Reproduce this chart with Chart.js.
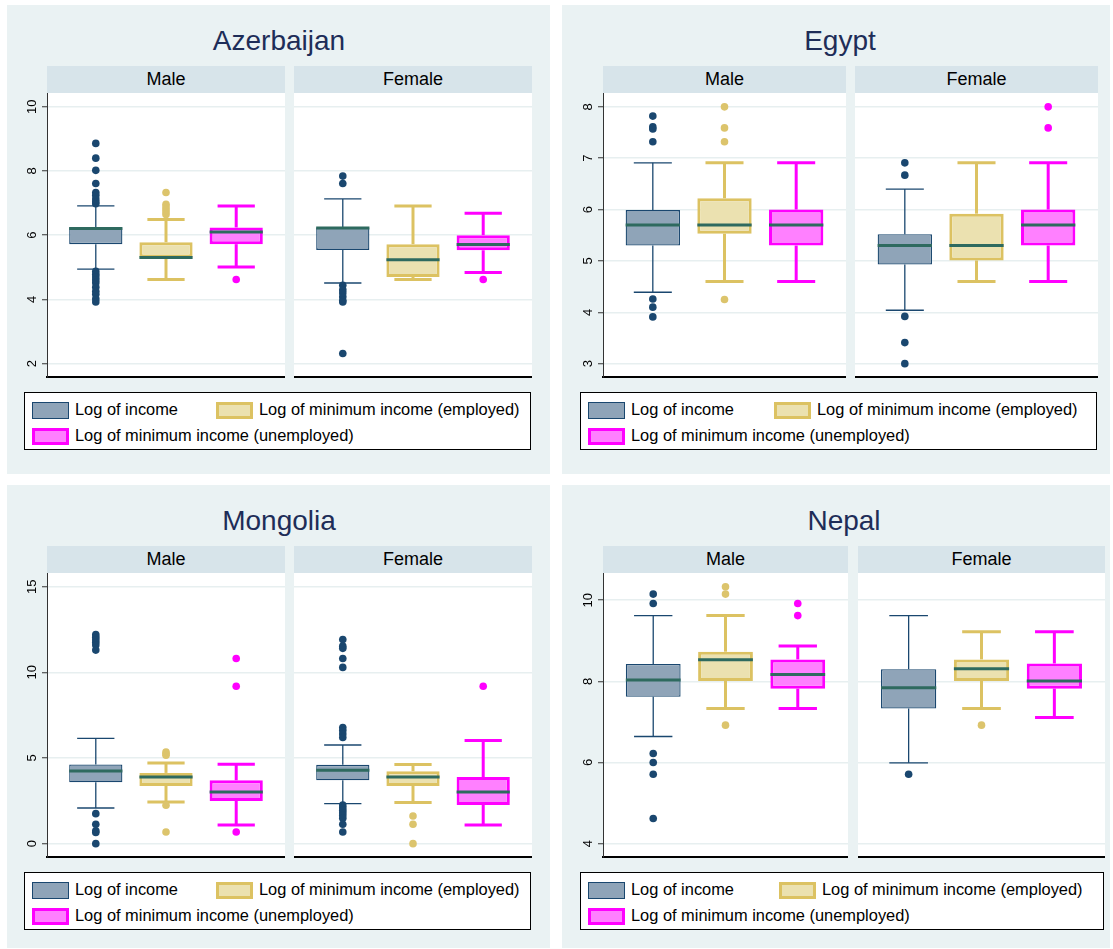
<!DOCTYPE html>
<html>
<head>
<meta charset="utf-8">
<script src="https://cdn.jsdelivr.net/npm/chart.js@4/dist/chart.umd.min.js"></script>
<style>
  body { margin:0; background:#fff; width:1113px; height:949px; position:relative; overflow:hidden;
         font-family:"Liberation Sans", Arial, Helvetica, sans-serif; }
  .panel { position:absolute; background:#eaf2f3; }
  .title { position:absolute; font-size:28px; line-height:28px; color:#1e2d58; white-space:nowrap; transform:translateX(-50%); }
  .strip { position:absolute; background:#d7e4ea; text-align:center; font-size:18px; color:#000; box-sizing:border-box; }
  canvas { position:absolute; }
  .legend { position:absolute; background:#fff; border:1px solid #000; box-sizing:border-box; }
  .key { position:absolute; width:37px; height:17px; box-sizing:border-box; }
  .ltxt { position:absolute; font-size:16.4px; line-height:17px; white-space:nowrap; color:#000; }
</style>
</head>
<body>
<script>
// ---- labels ----
const countries = ['Azerbaijan', 'Egypt', 'Mongolia', 'Nepal'];
const sexes = ['Male', 'Female'];
const seriesNames = ['Log of income', 'Log of minimum income (employed)', 'Log of minimum income (unemployed)'];

// ---- box statistics: [lower whisker, q1, median, q3, upper whisker] per series ----
const azerbaijanMale   = [[4.94, 5.72, 6.21, 6.25, 6.91], [4.62, 5.30, 5.30, 5.78, 6.49], [5.01, 5.72, 6.10, 6.24, 6.91]];
const azerbaijanFemale = [[4.51, 5.54, 6.22, 6.24, 7.13], [4.62, 4.70, 5.23, 5.72, 6.91], [4.84, 5.53, 5.71, 6.00, 6.68]];
const egyptMale        = [[4.39, 5.30, 5.70, 5.99, 6.91], [4.60, 5.53, 5.70, 6.22, 6.91], [4.60, 5.30, 5.70, 6.00, 6.91]];
const egyptFemale      = [[4.04, 4.93, 5.30, 5.52, 6.40], [4.60, 5.01, 5.30, 5.92, 6.91], [4.60, 5.30, 5.70, 6.00, 6.91]];
const mongoliaMale     = [[2.08, 3.58, 4.24, 4.62, 6.14], [2.43, 3.37, 3.89, 4.13, 4.71], [1.09, 2.49, 3.02, 3.70, 4.63]];
const mongoliaFemale   = [[2.34, 3.70, 4.28, 4.60, 5.76], [2.40, 3.37, 3.89, 4.23, 4.62], [1.09, 2.26, 3.02, 3.89, 6.02]];
const nepalMale        = [[6.64, 7.62, 8.03, 8.43, 9.62], [7.33, 8.01, 8.53, 8.73, 9.62], [7.33, 7.82, 8.17, 8.54, 8.87]];
const nepalFemale      = [[5.99, 7.33, 7.84, 8.30, 9.62], [7.33, 8.01, 8.31, 8.54, 9.22], [7.11, 7.82, 8.01, 8.44, 9.22]];

// ---- outside values per series ----
const azerbaijanMaleOut = [
  [8.86, 8.40, 8.02, 7.61, 7.33, 7.24, 7.13, 7.04, 6.98, 4.87, 4.78, 4.70, 4.61, 4.52, 4.38, 4.25, 4.16, 4.02, 3.92],
  [7.33, 6.96, 6.88, 6.80, 6.72, 6.64],
  [4.62]];
const azerbaijanFemaleOut = [
  [7.84, 7.61, 4.44, 4.30, 4.20, 4.08, 3.96, 3.92, 2.31],
  [],
  [4.62]];
const egyptMaleOut = [
  [7.82, 7.61, 7.57, 7.32, 4.26, 4.10, 3.91],
  [8.00, 7.59, 7.32, 4.25],
  []];
const egyptFemaleOut = [
  [6.91, 6.67, 3.92, 3.41, 3.00],
  [],
  [8.00, 7.59]];
const mongoliaMaleOut = [
  [12.20, 12.05, 11.90, 11.75, 11.60, 11.30, 1.75, 1.13, 0.75, 0.65, 0.00],
  [5.35, 5.25, 5.16, 2.24, 0.68],
  [10.81, 9.19, 0.68]];
const mongoliaFemaleOut = [
  [11.92, 11.53, 11.40, 10.81, 10.29, 6.78, 6.60, 6.40, 6.20, 2.25, 2.10, 1.95, 1.80, 1.65, 1.48, 1.13, 0.68],
  [1.61, 1.13, 0.00],
  [9.19]];
const nepalMaleOut = [
  [10.15, 9.92, 6.22, 6.00, 5.71, 4.62],
  [10.33, 10.15, 6.92],
  [9.92, 9.62]];
const nepalFemaleOut = [
  [5.71],
  [6.92],
  []];

// ---- y axis ticks and ranges ----
const azerbaijanTicks = [2, 4, 6, 8, 10];
const egyptTicks = [3, 4, 5, 6, 7, 8];
const mongoliaTicks = [0, 5, 10, 15];
const nepalTicks = [4, 6, 8, 10];
const azerbaijanRange = [1.58, 10.43];
const egyptRange = [2.74, 8.27];
const mongoliaRange = [-0.78, 15.8];
const nepalRange = [3.67, 10.67];

// ---- styling ----
const seriesStyle = [
  { fill: '#8fa4b8', line: '#1a476f', border: 1.3, whisker: 1.3, dot: '#1a476f' },
  { fill: '#ebe1b0', line: '#dcc262', border: 3,   whisker: 3,   dot: '#dcc46c' },
  { fill: '#ff80ff', line: '#ff00ff', border: 3,   whisker: 3,   dot: '#ff00ff' }
];
const medianColor = '#2e6a5f';
const gridColor = '#e7eff0';

// ---- page layout (pixels) ----
const panelLayout = {
  Azerbaijan: { box: [7, 5, 550, 474],    titleX: 279, titleY: 27,  strip: [66, 93],   plotY: [93, 377],  plots: [[47, 285], [294, 532]],  legend: [24, 392, 531, 450],  col2: 191 },
  Egypt:      { box: [562, 5, 1110, 474], titleX: 840, titleY: 27,  strip: [66, 93],   plotY: [93, 377],  plots: [[603, 846], [855, 1098]], legend: [580, 392, 1097, 450], col2: 193 },
  Mongolia:   { box: [7, 485, 550, 948],  titleX: 279, titleY: 507, strip: [546, 573], plotY: [573, 857], plots: [[47, 285], [294, 532]],  legend: [24, 872, 531, 930],  col2: 191 },
  Nepal:      { box: [562, 485, 1110, 948], titleX: 844, titleY: 507, strip: [546, 573], plotY: [573, 857], plots: [[603, 848], [858, 1105]], legend: [580, 872, 1104, 930], col2: 198 }
};

const panelData = {
  Azerbaijan: { stats: [azerbaijanMale, azerbaijanFemale], out: [azerbaijanMaleOut, azerbaijanFemaleOut], ticks: azerbaijanTicks, range: azerbaijanRange },
  Egypt:      { stats: [egyptMale, egyptFemale],           out: [egyptMaleOut, egyptFemaleOut],           ticks: egyptTicks,      range: egyptRange },
  Mongolia:   { stats: [mongoliaMale, mongoliaFemale],     out: [mongoliaMaleOut, mongoliaFemaleOut],     ticks: mongoliaTicks,   range: mongoliaRange },
  Nepal:      { stats: [nepalMale, nepalFemale],           out: [nepalMaleOut, nepalFemaleOut],           ticks: nepalTicks,      range: nepalRange }
};

// whiskers, caps, medians, outside values and rotated y labels
const boxExtras = {
  id: 'boxExtras',
  beforeDraw(chart) {
    const { ctx, chartArea: a } = chart;
    ctx.save();
    ctx.fillStyle = '#ffffff';
    ctx.fillRect(a.left, a.top, a.right - a.left, a.bottom - a.top);
    ctx.restore();
  },
  afterDatasetsDraw(chart) {
    const ctx = chart.ctx;
    const ys = chart.scales.y;
    const seg = (x1, y1, x2, y2) => { ctx.beginPath(); ctx.moveTo(x1, y1); ctx.lineTo(x2, y2); ctx.stroke(); };
    chart.data.datasets.forEach((ds, i) => {
      const bar = chart.getDatasetMeta(i).data[0];
      const [lo, q1, med, q3, hi] = ds.stats;
      const x = bar.x, w = bar.width, cap = w * 0.7;
      ctx.save();
      ctx.strokeStyle = ds.borderColor;
      ctx.lineWidth = ds.whiskerWidth;
      seg(x, ys.getPixelForValue(q3), x, ys.getPixelForValue(hi));
      seg(x, ys.getPixelForValue(q1), x, ys.getPixelForValue(lo));
      seg(x - cap / 2, ys.getPixelForValue(hi), x + cap / 2, ys.getPixelForValue(hi));
      seg(x - cap / 2, ys.getPixelForValue(lo), x + cap / 2, ys.getPixelForValue(lo));
      ctx.strokeStyle = medianColor;
      ctx.lineWidth = 3;
      const ym = ys.getPixelForValue(med);
      seg(x - w / 2, ym, x + w / 2, ym);
      ctx.fillStyle = ds.dotColor;
      ds.outliers.forEach(v => {
        ctx.beginPath();
        ctx.arc(x, ys.getPixelForValue(v), 3.8, 0, Math.PI * 2);
        ctx.fill();
      });
      ctx.restore();
    });
  },
  afterDraw(chart) {
    const opts = chart.options.plugins.boxExtras;
    if (!opts || !opts.yLabels) return;
    const ctx = chart.ctx, ys = chart.scales.y;
    ctx.save();
    ctx.font = '13px "Liberation Sans", Arial, sans-serif';
    ctx.fillStyle = '#000';
    ctx.textAlign = 'center';
    ctx.textBaseline = 'middle';
    ys.ticks.forEach(t => {
      const py = ys.getPixelForValue(t.value);
      ctx.save();
      ctx.translate(chart.chartArea.left - 15, py);
      ctx.rotate(-Math.PI / 2);
      ctx.fillText(String(t.value), 0, 0);
      ctx.restore();
    });
    ctx.restore();
  }
};

function el(tag, cls, style, text) {
  const e = document.createElement(tag);
  if (cls) e.className = cls;
  Object.assign(e.style, style);
  if (text !== undefined) e.textContent = text;
  document.body.appendChild(e);
  return e;
}

const AXIS_W = 40;

function drawSubplot(name, sexIdx) {
  const L = panelLayout[name], D = panelData[name];
  const [px1, px2] = L.plots[sexIdx];
  const [py1, py2] = L.plotY;
  const left = sexIdx === 0;
  const axisW = left ? AXIS_W : 0;
  const cv = document.createElement('canvas');
  cv.width = px2 - px1 + axisW;
  cv.height = py2 - py1 + 2;
  cv.style.left = (px1 - axisW) + 'px';
  cv.style.top = py1 + 'px';
  document.body.appendChild(cv);

  const stats = D.stats[sexIdx], outs = D.out[sexIdx];
  const datasets = seriesNames.map((s, k) => ({
    label: s,
    data: [[stats[k][1], stats[k][3]]],
    stats: stats[k],
    outliers: outs[k],
    backgroundColor: seriesStyle[k].fill,
    borderColor: seriesStyle[k].line,
    borderWidth: seriesStyle[k].border,
    whiskerWidth: seriesStyle[k].whisker,
    dotColor: seriesStyle[k].dot,
    borderSkipped: false,
    categoryPercentage: 0.885,
    barPercentage: 0.758
  }));

  new Chart(cv, {
    type: 'bar',
    data: { labels: [sexes[sexIdx]], datasets },
    plugins: [boxExtras],
    options: {
      responsive: false,
      animation: false,
      devicePixelRatio: 1,
      layout: { padding: 0 },
      plugins: { legend: { display: false }, tooltip: { enabled: false }, boxExtras: { yLabels: left } },
      scales: {
        x: {
          display: true,
          ticks: { display: false },
          grid: { display: true, color: 'rgba(0,0,0,0)', drawTicks: false },
          border: { display: true, color: '#000', width: 2 },
          afterFit(s) { s.height = 2; }
        },
        y: {
          min: D.range[0], max: D.range[1],
          display: true,
          ticks: { display: false },
          afterBuildTicks(s) { s.ticks = D.ticks.map(v => ({ value: v })); },
          grid: { color: gridColor, lineWidth: 1.5, drawTicks: left, tickLength: 5, tickColor: '#333', tickWidth: 1 },
          border: { display: left, color: '#333', width: 1 },
          afterFit(s) { s.width = axisW; }
        }
      }
    }
  });
}

function drawPanel(name) {
  const L = panelLayout[name];
  const [bx1, by1, bx2, by2] = L.box;
  el('div', 'panel', { left: bx1 + 'px', top: by1 + 'px', width: (bx2 - bx1) + 'px', height: (by2 - by1) + 'px' });
  el('div', 'title', { left: L.titleX + 'px', top: L.titleY + 'px' }, name);
  L.plots.forEach(([x1, x2], i) => {
    el('div', 'strip', { left: x1 + 'px', top: L.strip[0] + 'px', width: (x2 - x1) + 'px',
      height: (L.strip[1] - L.strip[0]) + 'px', lineHeight: (L.strip[1] - L.strip[0]) + 'px' }, sexes[i]);
    drawSubplot(name, i);
  });
  const [lx1, ly1, lx2, ly2] = L.legend;
  const lg = el('div', 'legend', { left: lx1 + 'px', top: ly1 + 'px', width: (lx2 - lx1) + 'px', height: (ly2 - ly1) + 'px' });
  const spots = [[7, 9], [L.col2, 9], [7, 35]];
  seriesNames.forEach((s, k) => {
    const [kx, ky] = spots[k];
    const key = document.createElement('div');
    key.className = 'key';
    Object.assign(key.style, { left: kx + 'px', top: ky + 'px', background: seriesStyle[k].fill,
      border: (k === 0 ? 1.5 : 3) + 'px solid ' + seriesStyle[k].line });
    lg.appendChild(key);
    const t = document.createElement('div');
    t.className = 'ltxt';
    Object.assign(t.style, { left: (kx + 43) + 'px', top: (ky - 1) + 'px' });
    t.textContent = s;
    lg.appendChild(t);
  });
}

countries.forEach(drawPanel);
</script>
</body>
</html>
